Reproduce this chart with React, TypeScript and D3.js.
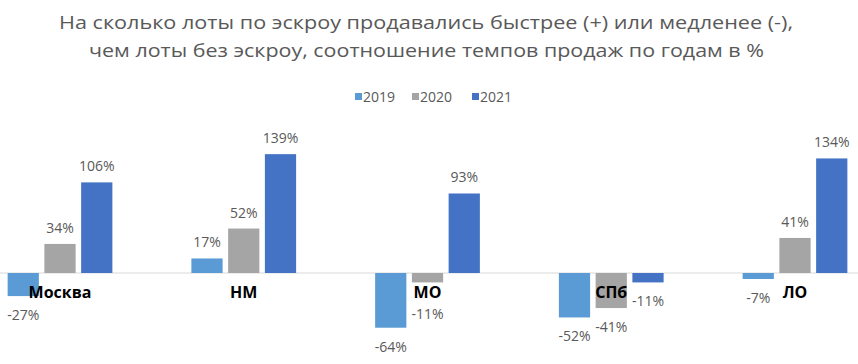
import React from "react";
import * as d3 from "d3";

const categories = ["Москва", "НМ", "МО", "СПб", "ЛО"];
const seriesNames = ["2019", "2020", "2021"];
const values2019 = [-27, 17, -64, -52, -7];
const values2020 = [34, 52, -11, -41, 41];
const values2021 = [106, 139, 93, -11, 134];
const seriesValues = [values2019, values2020, values2021];
const colors = ["#5B9BD5", "#A5A5A5", "#4472C4"];
const titleLines = [
  "На сколько лоты по эскроу продавались быстрее (+) или медленее (-),",
  "чем лоты без эскроу, соотношение темпов продаж по годам в %",
];

const W = 858;
const H = 364;
const FONT = "'Open Sans', 'DejaVu Sans', sans-serif";

export default function App() {
  const step = 183.75;
  const firstCenter = 60;
  const x0 = d3
    .scaleBand<string>()
    .domain(categories)
    .range([firstCenter - step / 2, firstCenter - step / 2 + step * categories.length])
    .paddingInner(0.43)
    .paddingOuter(0.215);
  const x1 = d3
    .scaleBand<string>()
    .domain(seriesNames)
    .range([0, x0.bandwidth()])
    .paddingInner(0.15);
  const y = d3.scaleLinear().domain([-80, 160]).range([273 + 80 * 0.855, 273 - 160 * 0.855]);
  const zeroY = y(0);
  const catLabelY = 297.5;

  const bars: React.ReactNode[] = [];
  const labels: React.ReactNode[] = [];
  categories.forEach((cat, ci) => {
    seriesNames.forEach((s, si) => {
      const v = seriesValues[si][ci];
      const bx = (x0(cat) as number) + (x1(s) as number);
      const bw = x1.bandwidth();
      const top = Math.min(y(v), zeroY);
      const h = Math.abs(y(v) - zeroY);
      bars.push(
        <rect key={`b-${ci}-${si}`} x={bx} y={top} width={bw} height={h} fill={colors[si]} />
      );
      let ly: number;
      if (v >= 0) {
        ly = y(v) - 11;
      } else {
        ly = y(v) + 24;
        // avoid overlap with category label for the middle bar
        if (si === 1 && ly - 5 < catLabelY + 8) ly = catLabelY + 21;
      }
      labels.push(
        <text
          key={`l-${ci}-${si}`}
          x={bx + bw / 2}
          y={ly}
          textAnchor="middle"
          fontSize={14}
          fill="#595959"
          fontFamily={FONT}
        >
          {`${v}%`}
        </text>
      );
    });
  });

  const legendItems = [
    { x: 355, tx: 363 },
    { x: 412, tx: 420 },
    { x: 472, tx: 480 },
  ];

  return (
    <svg width={W} height={H} style={{ display: "block", position: "absolute", left: 0, top: 0 }}>
      <rect x={0} y={0} width={W} height={H} fill="#fff" />
      <text x={426} y={29} textAnchor="middle" fontSize={18} fill="#595959" fontFamily={FONT} textLength={734} lengthAdjust="spacingAndGlyphs">
        {titleLines[0]}
      </text>
      <text x={426.5} y={57} textAnchor="middle" fontSize={18} fill="#595959" fontFamily={FONT} textLength={675} lengthAdjust="spacingAndGlyphs">
        {titleLines[1]}
      </text>
      {seriesNames.map((s, i) => (
        <g key={s}>
          <rect x={legendItems[i].x} y={93} width={7} height={7} fill={colors[i]} />
          <text x={legendItems[i].tx} y={101.5} fontSize={14} fill="#595959" fontFamily={FONT}>
            {s}
          </text>
        </g>
      ))}
      <line x1={0} x2={W} y1={zeroY} y2={zeroY} stroke="#D9D9D9" strokeWidth={1} />
      {bars}
      {labels}
      {categories.map((c) => (
        <text
          key={c}
          x={(x0(c) as number) + x0.bandwidth() / 2}
          y={catLabelY}
          textAnchor="middle"
          fontSize={16}
          fontWeight="bold"
          fill="#000"
          fontFamily={FONT}
        >
          {c}
        </text>
      ))}
    </svg>
  );
}
